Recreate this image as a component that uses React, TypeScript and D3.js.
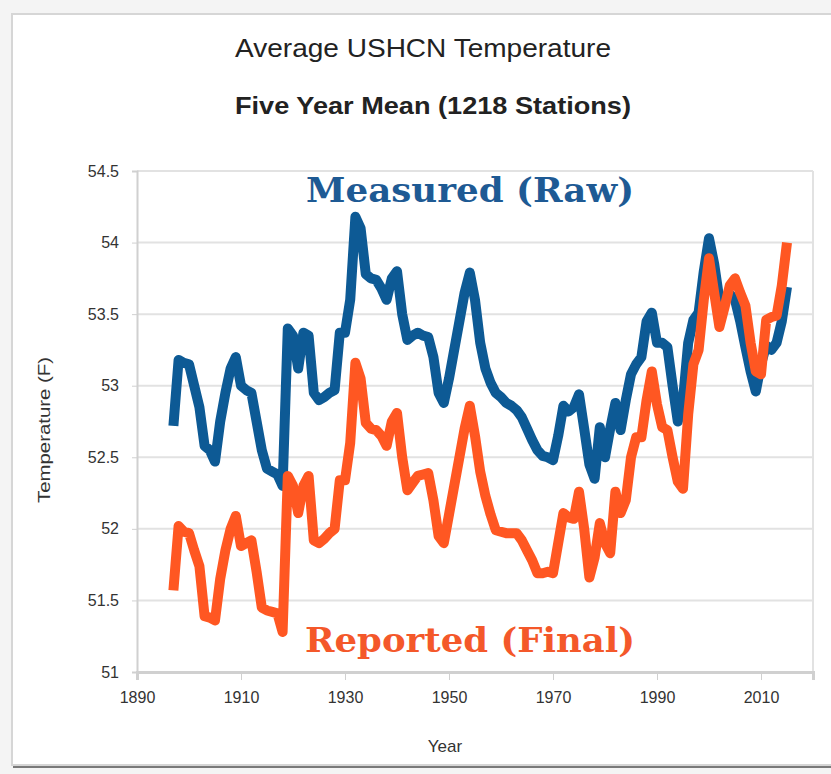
import React, { useRef, useEffect } from "react";
import * as d3 from "d3";

// annual 5-year means
const years = d3.range(1897, 2016);

const rawTemps = [
  52.72, 53.18, 53.16, 53.15, 53.0, 52.85, 52.58, 52.55, 52.47, 52.75,
  52.95, 53.12, 53.2, 53.0, 52.97, 52.95, 52.75, 52.55, 52.42, 52.4,
  52.38, 52.3, 53.4, 53.35, 53.12, 53.37, 53.35, 52.95, 52.9, 52.92,
  52.95, 52.97, 53.37, 53.37, 53.6, 54.18, 54.1, 53.78, 53.75, 53.74,
  53.68, 53.6, 53.75, 53.8, 53.5, 53.32, 53.35, 53.37, 53.35, 53.34,
  53.2, 52.95, 52.88, 53.05, 53.25, 53.45, 53.65, 53.79, 53.6, 53.3,
  53.12, 53.02, 52.95, 52.92, 52.88, 52.86, 52.83, 52.78, 52.7, 52.62,
  52.55, 52.51, 52.5, 52.48, 52.65, 52.86, 52.82, 52.85, 52.94, 52.7,
  52.45, 52.35, 52.71, 52.5, 52.7, 52.88, 52.69, 52.9, 53.08, 53.15,
  53.2, 53.45, 53.51, 53.3, 53.3, 53.27, 53.0, 52.75, 52.9, 53.3,
  53.46, 53.51, 53.8, 54.03, 53.85, 53.6, 53.62, 53.64, 53.6, 53.45,
  53.27, 53.1, 52.96, 53.15, 53.28, 53.25, 53.3, 53.45, 53.69
];

const finalTemps = [
  51.57, 52.02, 51.98, 51.97, 51.85, 51.74, 51.39, 51.38, 51.36, 51.65,
  51.85, 52.0, 52.09, 51.88, 51.9, 51.92, 51.7, 51.45, 51.43, 51.42,
  51.41, 51.28, 52.37, 52.3, 52.11, 52.3, 52.37, 51.92, 51.9, 51.93,
  51.97, 52.0, 52.34, 52.34, 52.6, 53.16, 53.05, 52.74, 52.7, 52.69,
  52.65, 52.58, 52.75, 52.81, 52.5, 52.27, 52.32, 52.37, 52.38, 52.39,
  52.2, 51.95, 51.9, 52.1, 52.3, 52.5, 52.7, 52.86, 52.65, 52.4,
  52.23, 52.1, 51.99, 51.98, 51.97, 51.97, 51.97, 51.92, 51.85, 51.78,
  51.69, 51.69, 51.7, 51.69, 51.9, 52.11, 52.08, 52.07, 52.26, 52.0,
  51.66, 51.8, 52.04, 51.9, 51.83, 52.26, 52.11, 52.2, 52.5, 52.64,
  52.64, 52.9, 53.1, 52.87, 52.71, 52.69, 52.5, 52.33, 52.28, 52.8,
  53.15, 53.25, 53.6, 53.89, 53.65, 53.41, 53.55, 53.7, 53.75, 53.65,
  53.56, 53.3, 53.1, 53.08, 53.46, 53.48, 53.49, 53.7, 54.0
];

const xTicks = [1890, 1910, 1930, 1950, 1970, 1990, 2010];
const yTicks = [51, 51.5, 52, 52.5, 53, 53.5, 54, 54.5];

const sans = "Liberation Sans, Arial, sans-serif";

const TempChart = () => {
  const chartRef = useRef(null);

  useEffect(() => {
    const W = 831;
    const H = 774;
    const margin = { top: 171, right: 18, bottom: 102, left: 137 };

    const svg = d3.select(chartRef.current);
    svg.selectAll("*").remove();

    // card background
    svg.append("rect").attr("width", W).attr("height", H).attr("fill", "#f4f4f4");
    svg.append("rect")
      .attr("x", 13).attr("y", 17).attr("width", W).attr("height", 751)
      .attr("fill", "#7a7a7a");
    svg.append("rect")
      .attr("x", 12).attr("y", 14).attr("width", W).attr("height", 751)
      .attr("fill", "#fff").attr("stroke", "#d6d6d6").attr("stroke-width", 2);

    const xScale = d3.scaleLinear().domain([1890, 2020]).range([margin.left, W - margin.right]);
    const yScale = d3.scaleLinear().domain([51, 54.5]).range([H - margin.bottom, margin.top]);

    // gridlines
    svg.append("g")
      .selectAll("line")
      .data(yTicks)
      .enter()
      .append("line")
      .attr("x1", margin.left)
      .attr("x2", W - margin.right)
      .attr("y1", (d) => yScale(d))
      .attr("y2", (d) => yScale(d))
      .attr("stroke", "#e2e2e2")
      .attr("stroke-width", 2);

    // right frame
    svg.append("line")
      .attr("x1", W - margin.right).attr("x2", W - margin.right)
      .attr("y1", margin.top).attr("y2", H - margin.bottom)
      .attr("stroke", "#e2e2e2").attr("stroke-width", 2);

    // y axis
    const yAxis = svg.append("g")
      .attr("transform", `translate(${margin.left},0)`)
      .call(d3.axisLeft(yScale).tickValues(yTicks).tickFormat(d3.format("")).tickSize(5).tickPadding(13));
    yAxis.select(".domain").attr("stroke", "#d0d0d0").attr("stroke-width", 2);
    yAxis.selectAll(".tick line").attr("stroke", "#d0d0d0");
    yAxis.selectAll("text")
      .attr("font-family", sans)
      .attr("font-size", 16)
      .attr("fill", "#333");

    // x axis
    const xAxis = svg.append("g")
      .attr("transform", `translate(0,${H - margin.bottom})`)
      .call(d3.axisBottom(xScale).tickValues(xTicks).tickFormat(d3.format("d")).tickSize(8).tickPadding(12));
    xAxis.select(".domain").attr("stroke", "#d0d0d0").attr("stroke-width", 3);
    xAxis.selectAll(".tick line").attr("stroke", "#d0d0d0");
    xAxis.selectAll("text")
      .attr("font-family", sans)
      .attr("font-size", 16)
      .attr("fill", "#333");

    const line = d3.line()
      .x((d) => xScale(d[0]))
      .y((d) => yScale(d[1]));

    const series = [
      { values: rawTemps, color: "#0d5a95" },
      { values: finalTemps, color: "#ff5722" }
    ];

    series.forEach((s) => {
      svg.append("path")
        .datum(years.map((y, i) => [y, s.values[i]]))
        .attr("d", line)
        .attr("fill", "none")
        .attr("stroke", s.color)
        .attr("stroke-width", 10)
        .attr("stroke-linejoin", "round");
    });

    // titles
    svg.append("text")
      .attr("x", 423).attr("y", 57)
      .attr("text-anchor", "middle")
      .attr("font-family", sans)
      .attr("font-size", 25)
      .attr("textLength", 376)
      .attr("lengthAdjust", "spacingAndGlyphs")
      .attr("fill", "#222")
      .text("Average USHCN Temperature");

    svg.append("text")
      .attr("x", 433).attr("y", 114)
      .attr("text-anchor", "middle")
      .attr("font-family", sans)
      .attr("font-weight", "bold")
      .attr("font-size", 24)
      .attr("textLength", 396)
      .attr("lengthAdjust", "spacingAndGlyphs")
      .attr("fill", "#222")
      .text("Five Year Mean (1218 Stations)");

    // annotations
    svg.append("text")
      .attr("x", 470).attr("y", 202)
      .attr("text-anchor", "middle")
      .attr("font-family", "DejaVu Serif, serif")
      .attr("font-weight", "bold")
      .attr("font-size", 33)
      .attr("textLength", 328)
      .attr("lengthAdjust", "spacingAndGlyphs")
      .attr("fill", "#1e5a94")
      .text("Measured (Raw)");

    svg.append("text")
      .attr("x", 470).attr("y", 652)
      .attr("text-anchor", "middle")
      .attr("font-family", "DejaVu Serif, serif")
      .attr("font-weight", "bold")
      .attr("font-size", 33)
      .attr("textLength", 330)
      .attr("lengthAdjust", "spacingAndGlyphs")
      .attr("fill", "#f4582a")
      .text("Reported (Final)");

    // axis titles
    svg.append("text")
      .attr("transform", "translate(50,430) rotate(-90)")
      .attr("text-anchor", "middle")
      .attr("font-family", sans)
      .attr("font-size", 16)
      .attr("textLength", 146)
      .attr("lengthAdjust", "spacingAndGlyphs")
      .attr("fill", "#333")
      .text("Temperature (F)");

    svg.append("text")
      .attr("x", 445).attr("y", 752)
      .attr("text-anchor", "middle")
      .attr("font-family", sans)
      .attr("font-size", 17)
      .attr("fill", "#333")
      .text("Year");
  }, []);

  return (
    <svg
      ref={chartRef}
      width={831}
      height={774}
      style={{ position: "absolute", left: 0, top: 0 }}
    ></svg>
  );
};

export default function App() {
  return <TempChart />;
}
